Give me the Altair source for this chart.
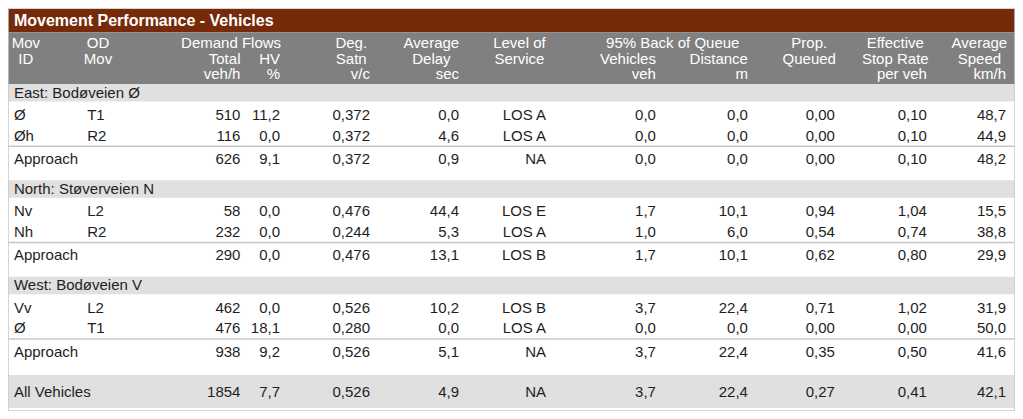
import altair as alt
import pandas as pd

# ---------------- data ----------------
title = "Movement Performance - Vehicles"
sections = ["East: Bodøveien Ø", "North: Støverveien N", "West: Bodøveien V"]

mov_id = ["Ø", "Øh", "Approach", "Nv", "Nh", "Approach", "Vv", "Ø", "Approach", "All Vehicles"]
od_mov = ["T1", "R2", "", "L2", "R2", "", "L2", "T1", "", ""]
total_flow = [510, 116, 626, 58, 232, 290, 462, 476, 938, 1854]
hv_pct = [11.2, 0.0, 9.1, 0.0, 0.0, 0.0, 0.0, 18.1, 9.2, 7.7]
deg_satn = [0.372, 0.372, 0.372, 0.476, 0.244, 0.476, 0.526, 0.280, 0.526, 0.526]
avg_delay = [0.0, 4.6, 0.9, 44.4, 5.3, 13.1, 10.2, 0.0, 5.1, 4.9]
los = ["LOS A", "LOS A", "NA", "LOS E", "LOS A", "LOS B", "LOS B", "LOS A", "NA", "NA"]
queue_veh = [0.0, 0.0, 0.0, 1.7, 1.0, 1.7, 3.7, 0.0, 3.7, 3.7]
queue_dist = [0.0, 0.0, 0.0, 10.1, 6.0, 10.1, 22.4, 0.0, 22.4, 22.4]
prop_queued = [0.00, 0.00, 0.00, 0.94, 0.54, 0.62, 0.71, 0.00, 0.35, 0.27]
stop_rate = [0.10, 0.10, 0.10, 1.04, 0.74, 0.80, 1.02, 0.00, 0.50, 0.41]
avg_speed = [48.7, 44.9, 48.2, 15.5, 38.8, 29.9, 31.9, 50.0, 41.6, 42.1]

# header texts: (text, column anchor key, line, align)
header_cells = [
    ("Mov", "id_c", 1, "center"), ("ID", "id_c", 2, "center"),
    ("OD", "od_c", 1, "center"), ("Mov", "od_c", 2, "center"),
    ("Demand Flows", "dem_c", 1, "center"),
    ("Total", "total", 2, "right"), ("veh/h", "total", 3, "right"),
    ("HV", "hv", 2, "right"), ("%", "hv", 3, "right"),
    ("Deg.", "deg_c", 1, "center"), ("Satn", "deg_c", 2, "center"), ("v/c", "deg", 3, "right"),
    ("Average", "delay_c", 1, "center"), ("Delay", "delay_c", 2, "center"), ("sec", "delay", 3, "right"),
    ("Level of", "los_c", 1, "center"), ("Service", "los_c", 2, "center"),
    ("95% Back of Queue", "queue_c", 1, "center"),
    ("Vehicles", "qveh", 2, "right"), ("veh", "qveh", 3, "right"),
    ("Distance", "qdist", 2, "right"), ("m", "qdist", 3, "right"),
    ("Prop.", "prop_c", 1, "center"), ("Queued", "prop_c", 2, "center"),
    ("Effective", "stop_c", 1, "center"), ("Stop Rate", "stop_c", 2, "center"), ("per veh", "stop", 3, "right"),
    ("Average", "speed_c", 1, "center"), ("Speed", "speed_c", 2, "center"), ("km/h", "speed", 3, "right"),
]

# ---------------- layout (reference pixel frame) ----------------
X0, X1, Y0, Y1 = 2, 1020, 2, 416
W, H = 1007, 403
anchors = {
    "id": 8, "od": 82, "id_c": 20, "od_c": 93, "dem_c": 227.5,
    "total": 237, "hv": 277, "deg": 368, "deg_c": 349, "delay": 458, "delay_c": 430,
    "los": 546, "los_c": 519, "qveh": 657, "qdist": 750, "queue_c": 674,
    "prop": 838, "prop_c": 812, "stop": 931, "stop_c": 899, "speed": 1011, "speed_c": 984,
}
TITLE_BAND = (3, 27)
HEADER_BAND = (27, 80)
HEADER_LINES = {1: 38, 2: 54, 3: 70}
SECTION_BASE = [80, 179, 278]
ROW_OFFSETS = [32, 53, 77]
SEP_OFFSET = 64
ALL_BAND = (379, 413)

BROWN = "#772a09"
HEAD_GRAY = "#808080"
BAND_GRAY = "#e0e0e0"
LINE_GRAY = "#c8c8c8"
TEXT = "#1e1e1e"
FONT = "Liberation Sans"
FS = 15


def f1(v):
    return f"{v:.1f}".replace(".", ",")


def f2(v):
    return f"{v:.2f}".replace(".", ",")


def f3(v):
    return f"{v:.3f}".replace(".", ",")


# row y positions
row_y = []
for s, base in enumerate(SECTION_BASE):
    for off in ROW_OFFSETS:
        row_y.append(base + off)
row_y.append((ALL_BAND[0] + ALL_BAND[1]) / 2)

# bands
bands = [dict(x=X0, x2=X1, y=TITLE_BAND[0], y2=TITLE_BAND[1], c=BROWN),
         dict(x=X0, x2=X1, y=HEADER_BAND[0], y2=HEADER_BAND[1], c=HEAD_GRAY)]
for base in SECTION_BASE:
    bands.append(dict(x=X0, x2=X1, y=base, y2=base + 18, c=BAND_GRAY))
bands.append(dict(x=X0, x2=X1, y=ALL_BAND[0], y2=ALL_BAND[1], c=BAND_GRAY))
bands_df = pd.DataFrame(bands)

seps_df = pd.DataFrame([dict(x=X0, x2=X1, y=b + SEP_OFFSET) for b in SECTION_BASE])
border_df = pd.DataFrame([dict(x=X0, x2=X1, y=Y0, y2=Y1)])

# cell texts
left_cells, right_cells = [], []
for i in range(len(mov_id)):
    y = row_y[i]
    left_cells.append(dict(x=anchors["id"], y=y, t=mov_id[i]))
    if od_mov[i]:
        left_cells.append(dict(x=anchors["od"], y=y, t=od_mov[i]))
    vals = [
        ("total", str(total_flow[i])), ("hv", f1(hv_pct[i])), ("deg", f3(deg_satn[i])),
        ("delay", f1(avg_delay[i])), ("los", los[i]), ("qveh", f1(queue_veh[i])),
        ("qdist", f1(queue_dist[i])), ("prop", f2(prop_queued[i])), ("stop", f2(stop_rate[i])),
        ("speed", f1(avg_speed[i])),
    ]
    for k, t in vals:
        right_cells.append(dict(x=anchors[k], y=y, t=t))
for s, base in enumerate(SECTION_BASE):
    left_cells.append(dict(x=anchors["id"], y=base + 9, t=sections[s]))

left_df = pd.DataFrame(left_cells)
right_df = pd.DataFrame(right_cells)

head_df = pd.DataFrame([dict(x=anchors[k], y=HEADER_LINES[ln], t=t, a=a) for t, k, ln, a in header_cells])
title_df = pd.DataFrame([dict(x=anchors["id"], y=(TITLE_BAND[0] + TITLE_BAND[1]) / 2, t=title)])

xs = alt.Scale(domain=[X0, X1], nice=False, zero=False)
ys = alt.Scale(domain=[Y0, Y1], nice=False, zero=False, reverse=True)


def X(f="x"):
    return alt.X(f"{f}:Q", scale=xs, axis=None)


def Y(f="y"):
    return alt.Y(f"{f}:Q", scale=ys, axis=None)


band_layer = alt.Chart(bands_df).mark_rect().encode(
    x=X(), x2="x2:Q", y=Y(), y2="y2:Q", color=alt.Color("c:N", scale=None))
sep_layer = alt.Chart(seps_df).mark_rule(color=LINE_GRAY, strokeWidth=1.5).encode(
    x=X(), x2="x2:Q", y=Y())
border_layer = alt.Chart(border_df).mark_rect(filled=False, stroke=LINE_GRAY, strokeWidth=1.5).encode(
    x=X(), x2="x2:Q", y=Y(), y2="y2:Q")


def text_layer(df, align, color, size=FS, weight="normal"):
    return alt.Chart(df).mark_text(align=align, baseline="middle", font=FONT, fontSize=size,
                                   fontWeight=weight, color=color).encode(
        x=X(), y=Y(), text="t:N")


layers = [band_layer, sep_layer, border_layer,
          text_layer(title_df, "left", "white", 16, "bold"),
          text_layer(head_df[head_df.a == "center"], "center", "white"),
          text_layer(head_df[head_df.a == "right"], "right", "white"),
          text_layer(left_df, "left", TEXT),
          text_layer(right_df, "right", TEXT)]

chart = alt.layer(*layers).properties(
    width=W, height=H, padding=0, autosize=alt.AutoSizeParams(type="none")
).configure_view(stroke=None)

chart.save("out.html", embed_options={"renderer": "svg", "actions": False})
